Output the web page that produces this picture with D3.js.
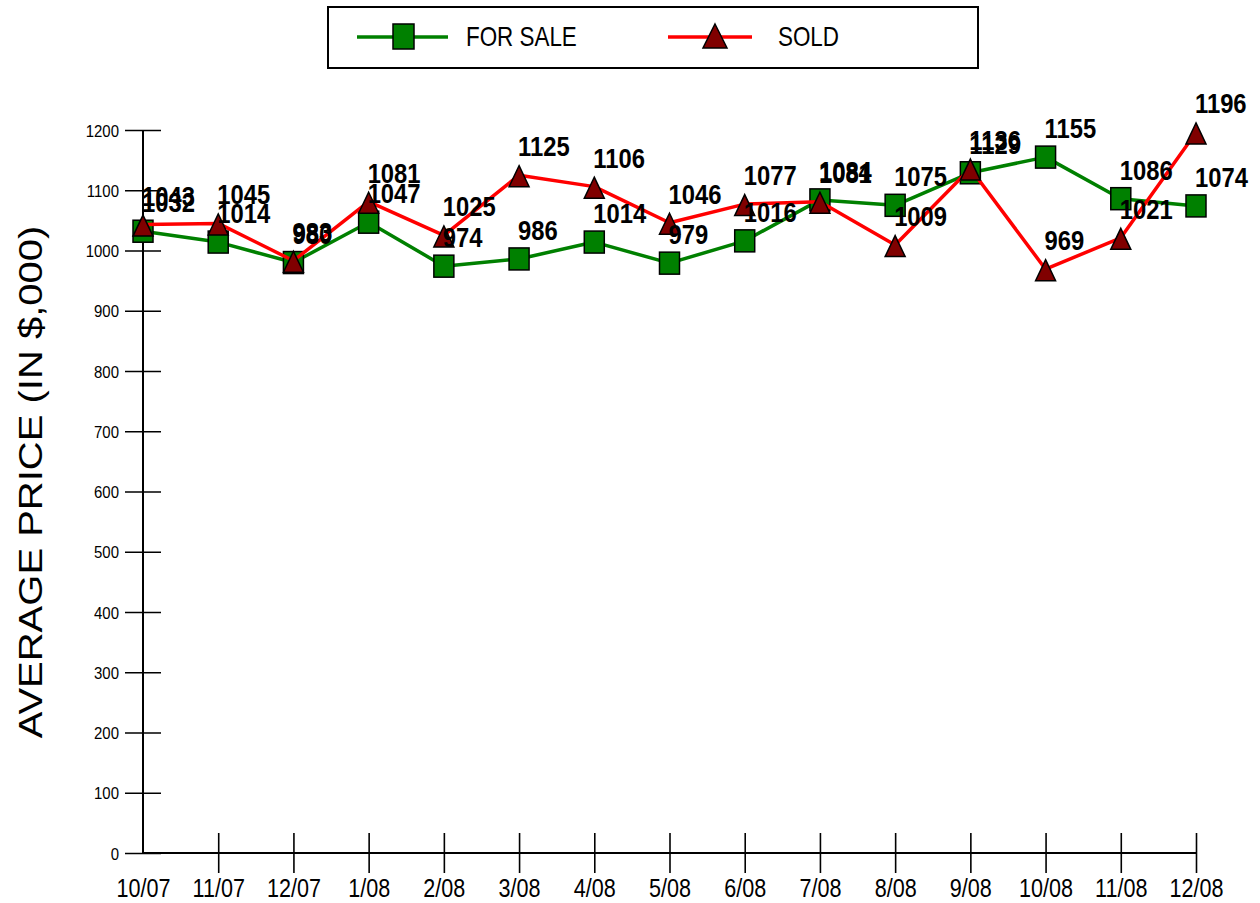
<!DOCTYPE html>
<html>
<head>
<meta charset="utf-8">
<script src="https://cdn.jsdelivr.net/npm/d3@7"></script>
<style>
body { margin: 0; background: #fff; }
text { font-family: Arial, "Liberation Sans", sans-serif; fill: #000; }
</style>
</head>
<body>
<svg id="chart" width="1260" height="903"></svg>
<script>
// chart data
var months = ["10/07", "11/07", "12/07", "1/08", "2/08", "3/08", "4/08", "5/08",
              "6/08", "7/08", "8/08", "9/08", "10/08", "11/08", "12/08"];
var forSale = [1032, 1014, 980, 1047, 974, 986, 1014, 979, 1016, 1084, 1075, 1129, 1155, 1086, 1074];
var sold    = [1043, 1045, 983, 1081, 1025, 1125, 1106, 1046, 1077, 1081, 1009, 1136, 969, 1021, 1196];
var yTicks  = [0, 100, 200, 300, 400, 500, 600, 700, 800, 900, 1000, 1100, 1200];
var seriesNames = ["FOR SALE", "SOLD"];

var squish = 0.83; // the whole picture is a bit narrow, text looks condensed

var svg = d3.select("#chart");

var x = d3.scalePoint().domain(months).range([143, 1196]);
var y = d3.scaleLinear().domain([0, 1200]).range([853, 130]);

function triPath(w, h) {
    return "M0," + (-h / 2) + "L" + (w / 2) + "," + (h / 2) + "L" + (-w / 2) + "," + (h / 2) + "Z";
}

// Y axis ticks (cross the axis line)
var yAxis = d3.axisLeft(y).tickValues(yTicks).tickSize(18).tickPadding(6).tickFormat(d3.format("d"));
var gy = svg.append("g")
    .attr("transform", "translate(143,0)")
    .call(yAxis);
gy.select(".domain").remove();
gy.selectAll(".tick line").attr("x1", 18).attr("stroke", "#000").attr("stroke-width", 1.6);
gy.selectAll(".tick text")
    .attr("x", 0).attr("dy", 0)
    .attr("transform", "translate(-24,6) scale(0.88,1)")
    .attr("font-size", 17)
    .attr("font-family", "Arial, 'Liberation Sans', sans-serif")
    .attr("fill", "#000");

// X axis ticks
var xAxis = d3.axisBottom(x).tickSize(20);
var gx = svg.append("g")
    .attr("transform", "translate(0,853)")
    .call(xAxis);
gx.select(".domain").remove();
gx.selectAll(".tick line").attr("y1", -20).attr("stroke", "#000").attr("stroke-width", 1.6)
    .filter(function(d, i) { return i === 0; }).remove();
gx.selectAll(".tick text")
    .attr("y", 0).attr("dy", 0)
    .attr("transform", "translate(0,44) scale(" + squish + ",1)")
    .attr("font-size", 26)
    .attr("font-family", "Arial, 'Liberation Sans', sans-serif")
    .attr("fill", "#000");

// axis lines
svg.append("line")
    .attr("x1", x(months[0])).attr("x2", x(months[0]))
    .attr("y1", y(1200)).attr("y2", y(0))
    .attr("stroke", "#000").attr("stroke-width", 2);
svg.append("line")
    .attr("x1", x(months[0])).attr("x2", x(months[months.length - 1]))
    .attr("y1", y(0)).attr("y2", y(0))
    .attr("stroke", "#000").attr("stroke-width", 2);

// Y axis title
svg.append("text")
    .attr("transform", "translate(42,482) scale(" + squish + ",1) rotate(-90)")
    .attr("text-anchor", "middle")
    .attr("font-size", 40)
    .text("AVERAGE PRICE (IN $,000)");

var line = d3.line()
    .x(function(d, i) { return x(months[i]); })
    .y(function(d) { return y(d); });

// FOR SALE series
svg.append("path")
    .datum(forSale)
    .attr("d", line)
    .attr("fill", "none")
    .attr("stroke", "#008000")
    .attr("stroke-width", 3.5)
    .attr("stroke-linejoin", "round");

svg.selectAll(".sq")
    .data(forSale)
    .enter().append("rect")
    .attr("class", "sq")
    .attr("x", function(d, i) { return x(months[i]) - 10; })
    .attr("y", function(d) { return y(d) - 11; })
    .attr("width", 20)
    .attr("height", 22)
    .attr("fill", "#008000")
    .attr("stroke", "#000")
    .attr("stroke-width", 1.5);

// SOLD series
svg.append("path")
    .datum(sold)
    .attr("d", line)
    .attr("fill", "none")
    .attr("stroke", "#ff0000")
    .attr("stroke-width", 3.5)
    .attr("stroke-linejoin", "round");

svg.selectAll(".tri")
    .data(sold)
    .enter().append("path")
    .attr("class", "tri")
    .attr("transform", function(d, i) { return "translate(" + x(months[i]) + "," + (y(d) + 1) + ")"; })
    .attr("d", triPath(20, 21))
    .attr("fill", "#800000")
    .attr("stroke", "#000")
    .attr("stroke-width", 1.5);

// value labels
function addLabels(values, cls) {
    svg.selectAll("." + cls)
        .data(values)
        .enter().append("text")
        .attr("class", cls)
        .attr("transform", function(d, i) {
            return "translate(" + (x(months[i]) - 1) + "," + (y(d) - 19) + ") scale(0.85,1)";
        })
        .attr("font-size", 28)
        .attr("font-weight", "bold")
        .text(function(d) { return d; });
}
addLabels(forSale, "lblFS");
addLabels(sold, "lblS");

// Legend
var legend = svg.append("g");
legend.append("rect")
    .attr("x", 328).attr("y", 7)
    .attr("width", 650).attr("height", 61)
    .attr("fill", "#fff")
    .attr("stroke", "#000")
    .attr("stroke-width", 2);

legend.append("line")
    .attr("x1", 357).attr("x2", 448).attr("y1", 37).attr("y2", 37)
    .attr("stroke", "#008000").attr("stroke-width", 3.5);
legend.append("rect")
    .attr("x", 393).attr("y", 24).attr("width", 21).attr("height", 25)
    .attr("fill", "#008000").attr("stroke", "#000").attr("stroke-width", 1.5);
legend.append("text")
    .attr("transform", "translate(466,46) scale(" + squish + ",1)")
    .attr("font-size", 27)
    .text(seriesNames[0]);

legend.append("line")
    .attr("x1", 668).attr("x2", 752).attr("y1", 37).attr("y2", 37)
    .attr("stroke", "#ff0000").attr("stroke-width", 3.5);
legend.append("path")
    .attr("transform", "translate(715,36)")
    .attr("d", triPath(24, 24))
    .attr("fill", "#800000").attr("stroke", "#000").attr("stroke-width", 1.5);
legend.append("text")
    .attr("transform", "translate(778,46) scale(" + squish + ",1)")
    .attr("font-size", 27)
    .text(seriesNames[1]);
</script>
</body>
</html>
